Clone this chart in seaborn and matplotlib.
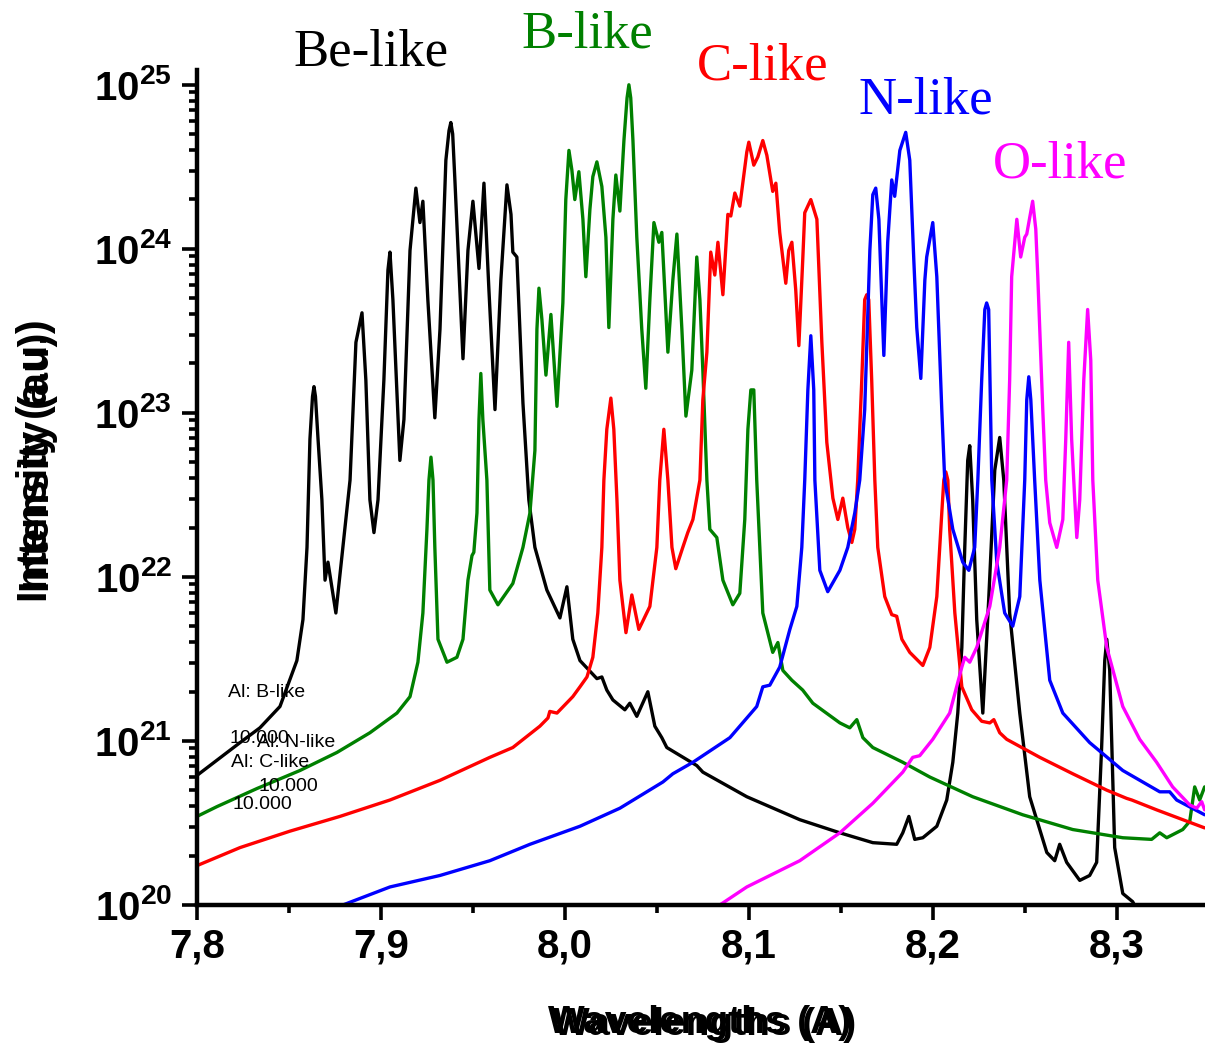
import numpy as np
import pandas as pd
import seaborn as sns
import matplotlib
matplotlib.use("Agg")
import matplotlib.pyplot as plt
from matplotlib.ticker import AutoMinorLocator, LogLocator, NullFormatter

# Al ion stages and their colours
ions = ["Be-like", "B-like", "C-like", "N-like", "O-like"]
colours = ["black", "green", "red", "blue", "magenta"]

# (wavelength in A, log10 intensity)
be_points = [
    (7.8000, 20.79), (7.8234, 20.99), (7.8342, 21.08), (7.8451, 21.21), (7.8543, 21.49),
    (7.8576, 21.74), (7.8598, 22.18), (7.8614, 22.84), (7.8628, 23.10), (7.8636, 23.16),
    (7.8644, 23.10), (7.8658, 22.84),
    (7.8679, 22.47), (7.8696, 21.98), (7.8712, 22.09), (7.8755, 21.78), (7.8832, 22.59),
    (7.8864, 23.43), (7.8897, 23.61), (7.8918, 23.20), (7.8940, 22.47), (7.8962, 22.27),
    (7.8984, 22.47), (7.9016, 23.20), (7.9038, 23.87), (7.9049, 23.98), (7.9065, 23.69),
    (7.9103, 22.71), (7.9125, 22.96), (7.9158, 23.99), (7.9190, 24.37), (7.9212, 24.16),
    (7.9228, 24.29), (7.9255, 23.69), (7.9293, 22.97), (7.9321, 23.51), (7.9353, 24.54),
    (7.9370, 24.72), (7.9380, 24.77), (7.9390, 24.70), (7.9402, 24.42), (7.9446, 23.33),
    (7.9473, 23.99), (7.9500, 24.29),
    (7.9533, 23.88), (7.9560, 24.40), (7.9587, 23.75), (7.9620, 23.02), (7.9652, 23.81),
    (7.9685, 24.39), (7.9707, 24.21), (7.9717, 23.98), (7.9739, 23.95), (7.9772, 23.06),
    (7.9804, 22.47), (7.9837, 22.18), (7.9902, 21.92), (7.9973, 21.75), (8.0011, 21.94),
    (8.0043, 21.62), (8.0082, 21.49), (8.0174, 21.38), (8.0201, 21.39), (8.0228, 21.31),
    (8.0261, 21.25), (8.0326, 21.19), (8.0353, 21.23), (8.0391, 21.15), (8.0451, 21.30),
    (8.0489, 21.09), (8.0527, 21.02), (8.0554, 20.96), (8.0717, 20.85), (8.0750, 20.81),
    (8.0989, 20.66), (8.1277, 20.52), (8.1495, 20.44), (8.1674, 20.38), (8.1804, 20.37),
    (8.1837, 20.44), (8.1870, 20.54), (8.1902, 20.40), (8.1946, 20.41), (8.2022, 20.48),
    (8.2076, 20.64), (8.2109, 20.87), (8.2136, 21.17), (8.2158, 21.57), (8.2174, 22.18),
    (8.2190, 22.71), (8.2201, 22.80), (8.2217, 22.47), (8.2239, 21.74), (8.2272, 21.17),
    (8.2304, 21.86), (8.2337, 22.65), (8.2364, 22.85), (8.2386, 22.59), (8.2418, 21.78),
    (8.2473, 21.17), (8.2527, 20.66), (8.2620, 20.32), (8.2663, 20.27), (8.2690, 20.37),
    (8.2728, 20.26), (8.2799, 20.15), (8.2853, 20.18), (8.2891, 20.26), (8.2918, 20.96),
    (8.2935, 21.49), (8.2946, 21.62), (8.2962, 21.43), (8.2989, 20.35), (8.3033, 20.07),
    (8.3087, 20.02), (8.3152, 19.88),
]
b_points = [
    (7.8000, 20.54), (7.8109, 20.60), (7.8326, 20.71), (7.8560, 20.82), (7.8761, 20.93),
    (7.8940, 21.05), (7.9087, 21.17), (7.9158, 21.27), (7.9201, 21.48), (7.9228, 21.78),
    (7.9250, 22.29), (7.9261, 22.59), (7.9272, 22.73), (7.9283, 22.59), (7.9293, 22.18),
    (7.9310, 21.62), (7.9359, 21.48), (7.9413, 21.51), (7.9446, 21.62), (7.9473, 21.98),
    (7.9495, 22.13), (7.9505, 22.15), (7.9522, 22.39), (7.9533, 22.96), (7.9543, 23.24),
    (7.9554, 22.96), (7.9576, 22.59), (7.9592, 21.92), (7.9636, 21.83), (7.9717, 21.96),
    (7.9772, 22.18), (7.9810, 22.39), (7.9837, 22.77), (7.9848, 23.51), (7.9859, 23.76),
    (7.9875, 23.57), (7.9897, 23.23), (7.9924, 23.60), (7.9957, 23.04), (7.9989, 23.67),
    (8.0005, 24.30), (8.0022, 24.60), (8.0038, 24.48), (8.0054, 24.30), (8.0076, 24.47),
    (8.0098, 24.18), (8.0114, 23.83), (8.0136, 24.24), (8.0152, 24.44), (8.0174, 24.53),
    (8.0201, 24.38), (8.0223, 24.07), (8.0239, 23.52), (8.0261, 24.18), (8.0277, 24.45),
    (8.0299, 24.23), (8.0321, 24.66), (8.0338, 24.92), (8.0348, 25.00), (8.0358, 24.92),
    (8.0370, 24.66), (8.0391, 24.07),
    (8.0418, 23.51), (8.0440, 23.15), (8.0462, 23.69), (8.0484, 24.16), (8.0511, 24.04),
    (8.0527, 24.10), (8.0543, 23.75), (8.0560, 23.37), (8.0587, 23.81), (8.0609, 24.09),
    (8.0636, 23.51), (8.0658, 22.98), (8.0690, 23.26), (8.0707, 23.69), (8.0717, 23.95),
    (8.0734, 23.69), (8.0750, 23.26), (8.0772, 22.59), (8.0788, 22.29), (8.0826, 22.24),
    (8.0859, 21.98), (8.0913, 21.83), (8.0951, 21.90), (8.0978, 22.35), (8.0995, 22.90),
    (8.1011, 23.14), (8.1027, 23.14), (8.1043, 22.59), (8.1076, 21.78), (8.1130, 21.54),
    (8.1158, 21.60), (8.1185, 21.43), (8.1234, 21.37), (8.1293, 21.31), (8.1348, 21.23),
    (8.1495, 21.11), (8.1549, 21.08), (8.1587, 21.13), (8.1620, 21.02), (8.1674, 20.96),
    (8.1837, 20.87), (8.1984, 20.78), (8.2217, 20.66), (8.2489, 20.55), (8.2761, 20.46),
    (8.3033, 20.41), (8.3190, 20.40), (8.3234, 20.44), (8.3272, 20.41), (8.3359, 20.46),
    (8.3397, 20.51), (8.3424, 20.72), (8.3451, 20.64), (8.3478, 20.72),
]
c_points = [
    (7.8000, 20.24), (7.8234, 20.35), (7.8505, 20.45), (7.8777, 20.54), (7.9049, 20.64),
    (7.9321, 20.76), (7.9592, 20.90), (7.9717, 20.96), (7.9864, 21.09), (7.9908, 21.14),
    (7.9918, 21.18), (7.9957, 21.17), (8.0043, 21.27), (8.0082, 21.33), (8.0120, 21.39),
    (8.0152, 21.51), (8.0179, 21.78), (8.0201, 22.18), (8.0212, 22.59), (8.0228, 22.90),
    (8.0250, 23.09), (8.0266, 22.90), (8.0283, 22.47), (8.0299, 21.98), (8.0332, 21.66),
    (8.0364, 21.89), (8.0402, 21.68), (8.0462, 21.82), (8.0500, 22.18), (8.0516, 22.59),
    (8.0538, 22.90), (8.0560, 22.59), (8.0582, 22.18), (8.0603, 22.05), (8.0641, 22.18),
    (8.0668, 22.27), (8.0696, 22.35), (8.0734, 22.59), (8.0750, 23.08), (8.0772, 23.37),
    (8.0793, 23.98), (8.0815, 23.84), (8.0832, 24.04), (8.0859, 23.72), (8.0886, 24.21),
    (8.0902, 24.20), (8.0924, 24.34), (8.0951, 24.26), (8.0989, 24.59), (8.1000, 24.65),
    (8.1027, 24.51), (8.1049, 24.56), (8.1076, 24.66), (8.1098, 24.57), (8.1130, 24.35),
    (8.1147, 24.40), (8.1168, 24.10), (8.1201, 23.79), (8.1217, 23.99), (8.1234, 24.04),
    (8.1255, 23.75), (8.1272, 23.41), (8.1293, 23.93), (8.1304, 24.22), (8.1337, 24.30),
    (8.1370, 24.18), (8.1397, 23.43), (8.1424, 22.82), (8.1457, 22.48), (8.1484, 22.35),
    (8.1511, 22.48), (8.1538, 22.30), (8.1560, 22.21), (8.1576, 22.29), (8.1592, 22.59),
    (8.1614, 23.20), (8.1630, 23.69), (8.1641, 23.72), (8.1652, 23.69), (8.1668, 23.20),
    (8.1685, 22.59), (8.1701, 22.18), (8.1739, 21.88), (8.1777, 21.77), (8.1804, 21.76),
    (8.1832, 21.62), (8.1875, 21.54), (8.1946, 21.46), (8.1984, 21.57), (8.2022, 21.88),
    (8.2049, 22.39), (8.2060, 22.59), (8.2071, 22.64), (8.2082, 22.59), (8.2092, 22.29),
    (8.2120, 21.78), (8.2158, 21.33), (8.2212, 21.19), (8.2266, 21.12), (8.2310, 21.11),
    (8.2332, 21.13), (8.2364, 21.05), (8.2402, 21.01), (8.2582, 20.90), (8.2761, 20.80),
    (8.2946, 20.70), (8.3054, 20.65), (8.3082, 20.64), (8.3217, 20.58), (8.3478, 20.47),
]
n_points = [
    (7.8723, 19.97), (7.9049, 20.11), (7.9321, 20.18), (7.9592, 20.27), (7.9810, 20.37),
    (8.0082, 20.48), (8.0299, 20.59), (8.0533, 20.75), (8.0587, 20.80), (8.0696, 20.87),
    (8.0897, 21.02), (8.1043, 21.21), (8.1076, 21.33), (8.1114, 21.34), (8.1168, 21.45),
    (8.1223, 21.68), (8.1261, 21.82), (8.1288, 22.18), (8.1304, 22.59), (8.1321, 23.14),
    (8.1337, 23.47), (8.1353, 23.14), (8.1359, 22.59), (8.1386, 22.04), (8.1429, 21.91),
    (8.1495, 22.04), (8.1538, 22.18), (8.1576, 22.39), (8.1603, 22.59), (8.1630, 23.02),
    (8.1658, 23.99), (8.1674, 24.33), (8.1690, 24.37), (8.1707, 24.18), (8.1734, 23.35),
    (8.1755, 24.04), (8.1777, 24.42), (8.1793, 24.32), (8.1821, 24.60), (8.1853, 24.71),
    (8.1875, 24.54), (8.1897, 23.93), (8.1913, 23.52), (8.1935, 23.21), (8.1957, 23.81),
    (8.1967, 23.95), (8.2000, 24.16), (8.2022, 23.83), (8.2049, 23.02), (8.2065, 22.59),
    (8.2109, 22.29), (8.2163, 22.09), (8.2196, 22.04), (8.2228, 22.18), (8.2245, 22.59),
    (8.2266, 23.20), (8.2283, 23.63), (8.2293, 23.67), (8.2304, 23.63), (8.2321, 22.59),
    (8.2348, 22.09), (8.2391, 21.78), (8.2435, 21.70), (8.2473, 21.88), (8.2500, 22.59),
    (8.2511, 23.08), (8.2522, 23.22), (8.2533, 23.08), (8.2554, 22.59), (8.2582, 21.98),
    (8.2636, 21.37), (8.2707, 21.17), (8.2853, 20.99), (8.3033, 20.82), (8.3234, 20.69),
    (8.3288, 20.69), (8.3326, 20.64), (8.3478, 20.55),
]
o_points = [
    (8.0788, 19.97), (8.0842, 20.00), (8.0989, 20.11), (8.1277, 20.27), (8.1495, 20.44),
    (8.1674, 20.62), (8.1837, 20.81), (8.1891, 20.90), (8.1929, 20.91), (8.2000, 21.01),
    (8.2092, 21.17), (8.2158, 21.45), (8.2174, 21.51), (8.2201, 21.48), (8.2239, 21.57),
    (8.2310, 21.82), (8.2364, 22.18), (8.2402, 22.59), (8.2418, 23.20), (8.2429, 23.83),
    (8.2457, 24.18), (8.2478, 23.95), (8.2500, 24.07), (8.2511, 24.09), (8.2543, 24.29),
    (8.2560, 24.12), (8.2571, 23.83), (8.2598, 23.02), (8.2614, 22.59), (8.2636, 22.33),
    (8.2674, 22.18), (8.2707, 22.35), (8.2723, 22.84), (8.2739, 23.43), (8.2755, 22.84),
    (8.2772, 22.47), (8.2783, 22.24), (8.2799, 22.47), (8.2821, 23.20), (8.2842, 23.63),
    (8.2859, 23.32), (8.2870, 22.59), (8.2897, 21.98), (8.2946, 21.57), (8.3033, 21.21),
    (8.3125, 21.01), (8.3217, 20.87), (8.3304, 20.72), (8.3397, 20.61), (8.3435, 20.59),
    (8.3462, 20.63), (8.3478, 20.58),
]
series = [be_points, b_points, c_points, n_points, o_points]

x_ticks = [7.8, 7.9, 8.0, 8.1, 8.2, 8.3]
x_labels = ["7,8", "7,9", "8,0", "8,1", "8,2", "8,3"]
y_exps = [20, 21, 22, 23, 24, 25]
y_labels = [r"$\mathbf{10^{%d}}$" % e for e in y_exps]

# leftover text boxes from the original plot
stray_texts = ["Al: B-like", "10.000", "Al: N-like", "Al: C-like", "10.000", "10.000"]

frames = []
for ion, pts in zip(ions, series):
    d = pd.DataFrame(pts, columns=["wl", "logI"])
    d["ion"] = ion
    frames.append(d)
df = pd.concat(frames, ignore_index=True)
df["I"] = 10 ** df["logI"]

sns.set_style("ticks")
plt.rcParams["font.family"] = ["Liberation Sans", "DejaVu Sans"]
plt.rcParams["mathtext.fontset"] = "custom"
plt.rcParams["mathtext.rm"] = "Liberation Sans"
plt.rcParams["mathtext.bf"] = "Liberation Sans:bold"
for k in ["text.color", "axes.labelcolor", "xtick.color", "ytick.color",
          "xtick.labelcolor", "ytick.labelcolor", "axes.edgecolor"]:
    plt.rcParams[k] = "black"

W, H = 1205, 1047
fig = plt.figure(figsize=(W / 100, H / 100), dpi=100)
ax = fig.add_axes([197 / W, (H - 905) / H, 1 - 197 / W, (905 - 70) / H])

sns.lineplot(data=df, x="wl", y="I", hue="ion", hue_order=ions,
             palette=dict(zip(ions, colours)), estimator=None, sort=False,
             legend=False, lw=2.4, ax=ax)

ax.set_yscale("log")
ax.set_xlim(7.8, 8.348)
ax.set_ylim(1e20, 10 ** 25.09)
ax.set_xlabel("")
ax.set_ylabel("")

ax.set_xticks(x_ticks, labels=x_labels, fontweight="bold", fontsize=29)
ax.xaxis.set_minor_locator(AutoMinorLocator(2))
ax.set_yticks([10.0 ** e for e in y_exps], labels=y_labels, fontsize=29)
ax.yaxis.set_minor_locator(LogLocator(base=10, subs=np.arange(2, 10) * 1.0, numticks=100))
ax.yaxis.set_minor_formatter(NullFormatter())

ax.tick_params(which="major", direction="out", length=11, width=2.6, color="black",
               labelcolor="black")
ax.tick_params(which="minor", direction="out", length=6, width=2.6, color="black")
ax.tick_params(axis="x", which="major", pad=5)
ax.tick_params(axis="y", which="major", pad=7)

for s in ["top", "right"]:
    ax.spines[s].set_visible(False)
for s in ["left", "bottom"]:
    ax.spines[s].set_linewidth(3.2)
    ax.spines[s].set_color("black")


def fx(px):
    return px / W


def fy(py):
    return 1 - py / H


# series names over the peaks
name_pos = [(293, 66), (521, 47), (697, 80), (858, 114), (993, 178)]
for ion, c, (px, py) in zip(ions, colours, name_pos):
    fig.text(fx(px), fy(py), ion, color=c, fontsize=38, family="Liberation Serif",
             ha="left", va="baseline")

stray_pos = [(228, 697), (230, 743), (257, 747), (231, 767), (259, 791), (233, 809)]
for t, (px, py) in zip(stray_texts, stray_pos):
    fig.text(fx(px), fy(py), t, fontsize=14, ha="left", va="baseline", color="black")

# axis titles, doubled as in the original
fig.text(fx(548), fy(1033), "Wavelengths (A)", fontsize=28, fontweight="bold",
         ha="left", va="baseline", color="black")
fig.text(fx(553), fy(1035), "Wavelengths (A)", fontsize=28, fontweight="bold",
         ha="left", va="baseline", color="black")
fig.text(fx(36), fy(602), "Intensity (a.u.)", fontsize=30, fontweight="bold",
         rotation=90, ha="center", va="bottom", color="black")
fig.text(fx(38), fy(592), "Intensity (au)", fontsize=30, fontweight="bold",
         rotation=90, ha="center", va="bottom", color="black")

fig.savefig("out.png", dpi=100)
